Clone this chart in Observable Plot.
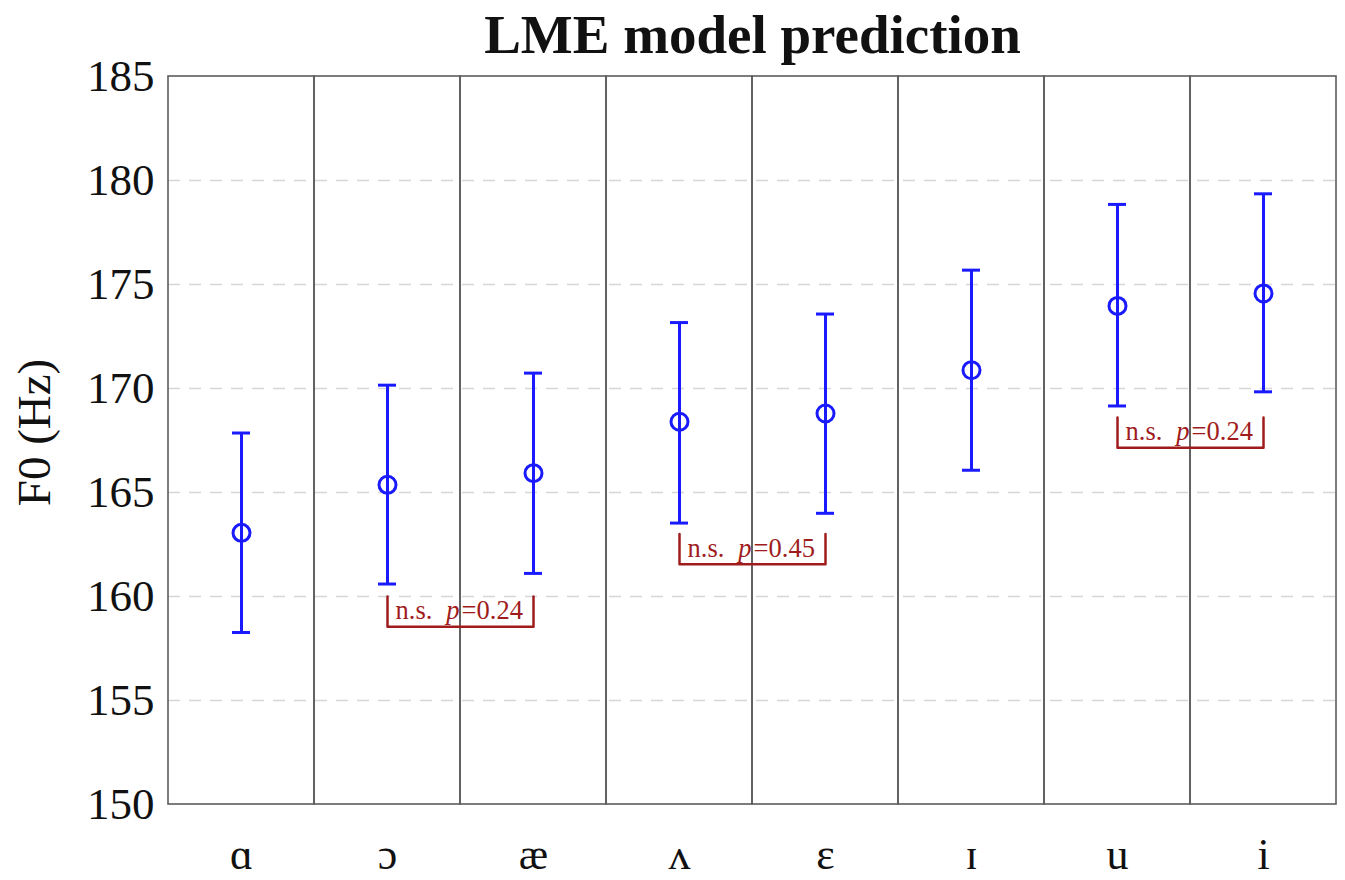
<!DOCTYPE html>
<html>
<head>
<meta charset="utf-8">
<script src="https://cdn.jsdelivr.net/npm/d3@7"></script>
<script src="https://cdn.jsdelivr.net/npm/@observablehq/plot@0.6"></script>
<style>
  body { margin: 0; background: #fff; }
</style>
</head>
<body>
<div id="chart"></div>
<script>
// Vowel categories along x
const vowels = ["ɑ", "ɔ", "æ", "ʌ", "ɛ", "ɪ", "u", "i"];
// Model-predicted F0 (Hz) and its interval bounds
const f0 = [163.06, 165.37, 165.93, 168.40, 168.80, 170.88, 173.97, 174.57];
const ciLow = [158.27, 160.60, 161.11, 163.53, 164.00, 166.07, 169.16, 169.84];
const ciHigh = [167.86, 170.16, 170.74, 173.17, 173.58, 175.69, 178.85, 179.36];

const yTicks = [150, 155, 160, 165, 170, 175, 180, 185];
const gridTicks = [155, 160, 165, 170, 175, 180];

// Non-significant pairwise comparisons
const pairLeft = ["ɔ", "ʌ", "u"];
const pairRight = ["æ", "ɛ", "i"];
const bracketTop = [160.0, 163.0, 168.6];
const pValues = ["0.24", "0.45", "0.24"];

const title = "LME model prediction";
const yLabel = "F0 (Hz)";

const rows = vowels.map((v, i) => ({vowel: v, f0: f0[i], lo: ciLow[i], hi: ciHigh[i]}));
const depth = 1.45;
const bracketPath = pairLeft.flatMap((a, i) => [
  {id: i, x: a, y: bracketTop[i]},
  {id: i, x: a, y: bracketTop[i] - depth},
  {id: i, x: pairRight[i], y: bracketTop[i] - depth},
  {id: i, x: pairRight[i], y: bracketTop[i]}
]);
const notes = pairLeft.map((a, i) => ({x: a, y: bracketTop[i], p: pValues[i]}));

const serif = '"Liberation Serif", "Times New Roman", serif';
const blue = "#1a1aff";
const red = "#a01c1c";

const chart = Plot.plot({
  width: 1345,
  height: 880,
  marginLeft: 168,
  marginRight: 9,
  marginTop: 76,
  marginBottom: 76,
  style: {fontFamily: serif, background: "#fff", color: "#111"},
  x: {type: "band", domain: vowels, padding: 0},
  y: {domain: [150, 185]},
  marks: [
    Plot.ruleY(gridTicks, {stroke: "#d6d6d6", strokeWidth: 1.5, strokeDasharray: "12,9"}),
    Plot.barY(vowels, {x: d => d, y1: 150, y2: 185, fill: "none", stroke: "#5c5c5c", strokeWidth: 1.6}),
    Plot.axisY(yTicks, {tickSize: 0, tickPadding: 14, fontSize: 45, label: null, fill: "#111"}),
    Plot.axisX({tickSize: 0, tickPadding: 33, fontSize: 44, label: null, fill: "#111"}),
    Plot.text([yLabel], {frameAnchor: "left", dx: -134, dy: -8, rotate: -90, textAnchor: "middle",
      fontSize: 47, lineAnchor: "middle", fill: "#111"}),
    Plot.text([title], {frameAnchor: "top", dy: -41, fontSize: 55, fontWeight: "bold", lineAnchor: "middle", fill: "#111"}),
    // significance brackets
    Plot.line(bracketPath, {x: "x", y: "y", z: "id", stroke: red, strokeWidth: 2.5, curve: "linear"}),
    Plot.text(notes, {x: "x", y: "y", text: d => `n.s. p=${d.p}`, textAnchor: "start", dx: 8, dy: 14,
      lineAnchor: "middle", fontSize: 26.5, fill: red}),
    // interval bars with caps and predicted means
    Plot.ruleX(rows, {x: "vowel", y1: "lo", y2: "hi", stroke: blue, strokeWidth: 3}),
    Plot.tickY(rows, {x: "vowel", y: "hi", insetLeft: 64, insetRight: 64, stroke: blue, strokeWidth: 3}),
    Plot.tickY(rows, {x: "vowel", y: "lo", insetLeft: 64, insetRight: 64, stroke: blue, strokeWidth: 3}),
    Plot.dot(rows, {x: "vowel", y: "f0", r: 8.5, stroke: blue, strokeWidth: 3, fill: "none"})
  ]
});

// italicise the p in each annotation
d3.select(chart).selectAll("text")
  .filter(function() { return /^n\.s\. p=/.test(this.textContent); })
  .each(function() {
    const m = this.textContent.match(/^(n\.s\.) p(=.*)$/);
    const t = d3.select(this);
    t.text(null);
    t.append("tspan").text(m[1]);
    t.append("tspan").attr("dx", 14).attr("font-style", "italic").text("p");
    t.append("tspan").attr("dx", 2).text(m[2]);
  });

document.getElementById("chart").appendChild(chart);
</script>
</body>
</html>
